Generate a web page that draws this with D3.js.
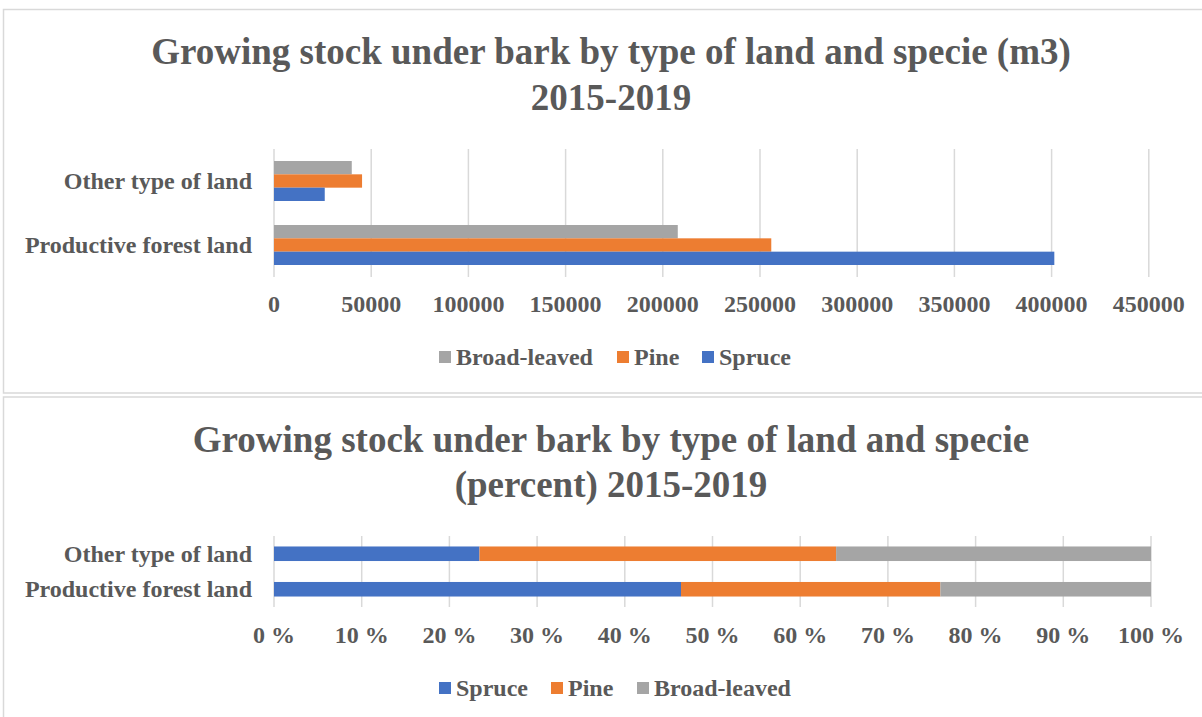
<!DOCTYPE html>
<html>
<head>
<meta charset="utf-8">
<script src="https://cdn.jsdelivr.net/npm/d3@7"></script>
<style>
  html, body { margin: 0; padding: 0; background: #fff; }
  svg { display: block; }
  text { font-family: "Liberation Serif", "Times New Roman", serif; font-weight: bold; fill: #595959; }
</style>
</head>
<body>
<svg id="chart" width="1202" height="717"></svg>
<script>
// Growing stock under bark (m3), 2015-2019
const categories = ["Other type of land", "Productive forest land"];
const spruce = [26100, 401400];
const pine = [45300, 255800];
const broadLeaved = [40000, 207700];

const seriesNames = ["Spruce", "Pine", "Broad-leaved"];
const seriesColors = { "Spruce": "#4472C4", "Pine": "#ED7D31", "Broad-leaved": "#A5A5A5" };

const volumeTicks = [0, 50000, 100000, 150000, 200000, 250000, 300000, 350000, 400000, 450000];
const percentTicks = [0, 0.1, 0.2, 0.3, 0.4, 0.5, 0.6, 0.7, 0.8, 0.9, 1.0];

const titleTop = ["Growing stock under bark by type of land and specie (m3)", "2015-2019"];
const titleBottom = ["Growing stock under bark by type of land and specie", "(percent) 2015-2019"];

const rows = categories.map((c, i) => ({
  category: c, "Spruce": spruce[i], "Pine": pine[i], "Broad-leaved": broadLeaved[i]
}));

const svg = d3.select("#chart");
const grid = "#D9D9D9";
const TITLE = 37, LABEL = 24;

function label(g, x, y, str, size, anchor) {
  return g.append("text")
    .attr("x", x).attr("y", y)
    .attr("text-anchor", anchor || "middle")
    .style("font-size", size + "px")
    .text(str);
}

// panel frames
svg.append("rect").attr("x", 3.5).attr("y", 9.5).attr("width", 1210).attr("height", 383.5)
  .attr("fill", "none").attr("stroke", grid).attr("stroke-width", 1.5);
svg.append("rect").attr("x", 3.5).attr("y", 397).attr("width", 1210).attr("height", 330)
  .attr("fill", "none").attr("stroke", grid).attr("stroke-width", 1.5);

// ---------- clustered bars (m3) ----------
const g1 = svg.append("g");
label(g1, 611, 64, titleTop[0], TITLE);
label(g1, 611, 110, titleTop[1], TITLE);

const x1 = d3.scaleLinear().domain([0, 450000]).range([274, 1148.8]);
const y1 = d3.scaleBand().domain(categories).range([149, 277]).padding(0);
const seriesTopOrder = ["Broad-leaved", "Pine", "Spruce"];
const y1s = d3.scaleBand().domain(seriesTopOrder).range([0, y1.bandwidth()])
  .paddingInner(0).paddingOuter(0.9);

g1.append("g").selectAll("line").data(volumeTicks).join("line")
  .attr("x1", d => x1(d)).attr("x2", d => x1(d))
  .attr("y1", 149).attr("y2", 277)
  .attr("stroke", grid).attr("stroke-width", 1.5);

g1.append("g").selectAll("g").data(rows).join("g")
  .attr("transform", d => `translate(0,${y1(d.category)})`)
  .selectAll("rect").data(d => seriesTopOrder.map(s => ({ s, v: d[s] }))).join("rect")
  .attr("x", x1(0)).attr("y", d => y1s(d.s))
  .attr("width", d => x1(d.v) - x1(0)).attr("height", y1s.bandwidth())
  .attr("fill", d => seriesColors[d.s]);

categories.forEach(c => label(g1, 252, y1(c) + y1.bandwidth() / 2 + 8, c, LABEL, "end"));
volumeTicks.forEach(t => label(g1, x1(t), 312, String(t), LABEL));

// legend (m3)
const leg1 = [["Broad-leaved", 439], ["Pine", 617], ["Spruce", 702]];
leg1.forEach(([s, x]) => {
  g1.append("rect").attr("x", x).attr("y", 351).attr("width", 12).attr("height", 12)
    .attr("fill", seriesColors[s]);
  label(g1, x + 17, 365, s, LABEL, "start");
});

// ---------- 100% stacked bars ----------
const g2 = svg.append("g");
label(g2, 611, 452, titleBottom[0], TITLE);
label(g2, 611, 497, titleBottom[1], TITLE);

const x2 = d3.scaleLinear().domain([0, 1]).range([274, 1151]);
const y2 = d3.scaleBand().domain(categories).range([536, 607])
  .paddingInner(0.59).paddingOuter(0.295);

const stacked = d3.stack().keys(seriesNames).offset(d3.stackOffsetExpand)(rows);

g2.append("g").selectAll("line").data(percentTicks).join("line")
  .attr("x1", d => x2(d)).attr("x2", d => x2(d))
  .attr("y1", 536).attr("y2", 607)
  .attr("stroke", grid).attr("stroke-width", 1.5);

g2.append("g").selectAll("g").data(stacked).join("g")
  .attr("fill", d => seriesColors[d.key])
  .selectAll("rect").data(d => d).join("rect")
  .attr("x", d => x2(d[0])).attr("width", d => x2(d[1]) - x2(d[0]))
  .attr("y", d => y2(d.data.category)).attr("height", y2.bandwidth());

categories.forEach(c => label(g2, 252, y2(c) + y2.bandwidth() / 2 + 8, c, LABEL, "end"));
percentTicks.forEach(t => label(g2, x2(t), 643, Math.round(t * 100) + " %", LABEL));

// legend (percent)
const leg2 = [["Spruce", 439], ["Pine", 551], ["Broad-leaved", 637]];
leg2.forEach(([s, x]) => {
  g2.append("rect").attr("x", x).attr("y", 682).attr("width", 12).attr("height", 12)
    .attr("fill", seriesColors[s]);
  label(g2, x + 17, 696, s, LABEL, "start");
});
</script>
</body>
</html>
